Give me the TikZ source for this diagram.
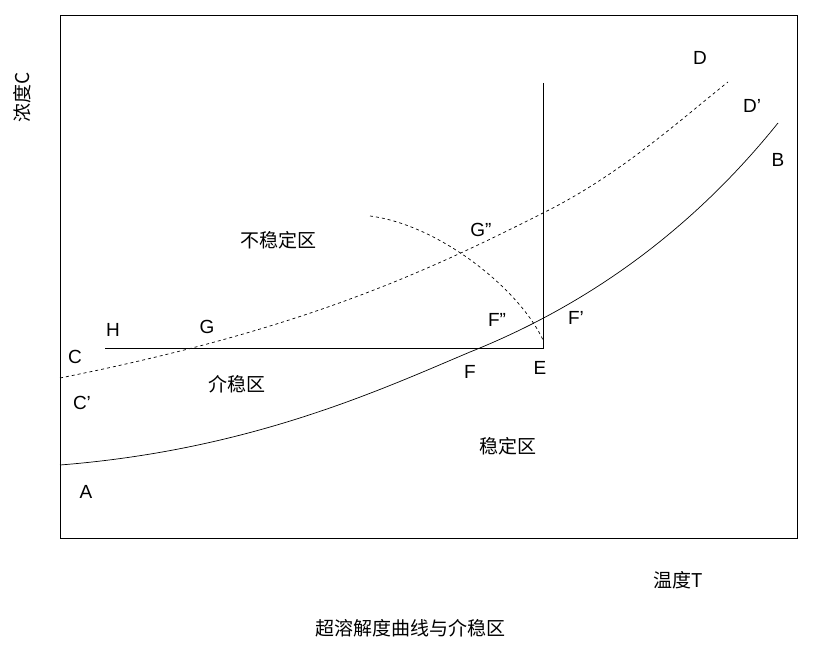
\documentclass[tikz,border=0pt]{standalone}
\usepackage{fontspec}
\setmainfont{Liberation Sans}
\newfontfamily\cjk{Noto Sans CJK SC}
\begin{document}
\begin{tikzpicture}[x=1pt,y=-1pt,
  lab/.style={font=\fontsize{19}{20}\selectfont,inner sep=0pt},
  cl/.style={font=\cjk\fontsize{19}{20}\selectfont,inner sep=0pt},
  ln/.style={line width=0.7pt}]
\useasboundingbox (0,0) rectangle (814,661);
\draw[ln] (60,15) rectangle (797,538);
% solubility curve
\draw[ln] (60,465) .. controls (250,450) and (380,390) .. (470,352) .. controls (600,300) and (700,220) .. (778,123);
% supersolubility curve
\draw[ln,dashed] (60,378) .. controls (300,330) and (420,275) .. (543,213) .. controls (620,175) and (680,120) .. (728,82);
\coordinate (Et) at (543,83);
\coordinate (E) at (543,348);
\coordinate (H) at (105,348);
\draw[ln] (Et) -- (E) -- (H);
\draw[ln,dashed] (370,216) .. controls (440,225) and (520,290) .. (543,340);
\node[lab] at (700,58) {D};
\node[lab] at (752,106) {D'};
\node[lab] at (778,160) {B};
\node[lab] at (481,230) {G''};
\node[cl] at (278,240) {不稳定区};
\node[lab] at (113,330) {H};
\node[lab] at (207,327) {G};
\node[lab] at (497,320) {F''};
\node[lab] at (576,318) {F'};
\node[lab] at (75,357) {C};
\node[lab] at (82,403) {C'};
\node[cl] at (237,384) {介稳区};
\node[lab] at (470,372) {F};
\node[lab] at (540,368) {E};
\node[cl] at (508,446) {稳定区};
\node[lab] at (86,492) {A};
\node[cl,rotate=90] at (22,97) {浓度C};
\node[cl] at (678,580) {温度T};
\node[cl] at (410,628) {超溶解度曲线与介稳区};
\end{tikzpicture}
\end{document}
